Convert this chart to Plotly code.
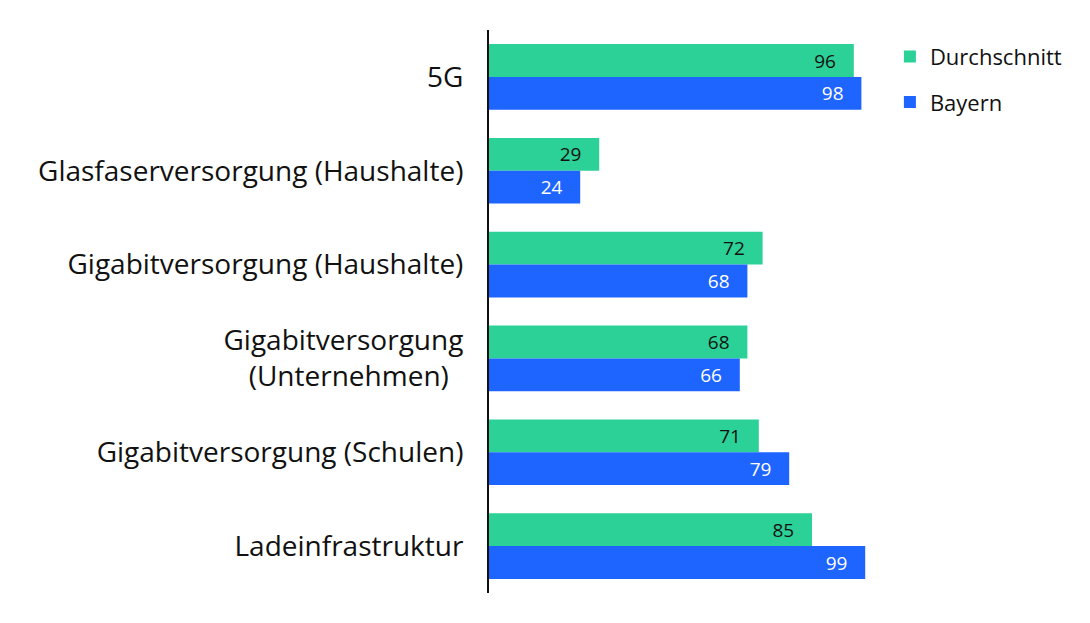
import plotly.graph_objects as go

categories = ["5G", "Glasfaserversorgung (Haushalte)", "Gigabitversorgung (Haushalte)",
              "Gigabitversorgung<br>(Unternehmen)  ", "Gigabitversorgung (Schulen)", "Ladeinfrastruktur"]
durchschnitt = [96, 29, 72, 68, 71, 85]
bayern = [98, 24, 68, 66, 79, 99]

FONT = "Open Sans"
fig = go.Figure()
fig.add_trace(go.Bar(
    y=categories, x=durchschnitt, name="Durchschnitt", orientation="h",
    marker=dict(color="#2BD197", line=dict(width=0)), legendgroup="a",
    text=[f"{v}\u00a0\u00a0\u00a0" for v in durchschnitt], textposition="inside",
    insidetextanchor="end", textfont=dict(color="#111111", size=19, family=FONT),
    hoverinfo="x+name",
))
fig.add_trace(go.Bar(
    y=categories, x=bayern, name="Bayern", orientation="h",
    marker=dict(color="#1E64FF", line=dict(width=0)), legendgroup="b",
    text=[f"{v}\u00a0\u00a0\u00a0" for v in bayern], textposition="inside",
    insidetextanchor="end", textfont=dict(color="#FFFFFF", size=19, family=FONT),
    hoverinfo="x+name",
))
fig.update_layout(
    width=1090, height=623,
    margin=dict(l=481, r=229, t=22, b=38),
    paper_bgcolor="white", plot_bgcolor="white",
    barmode="group", bargap=0.3, bargroupgap=0,
    uniformtext=dict(mode="show", minsize=10),
    font=dict(family=FONT, color="#111111"),
    showlegend=True,
    legend=dict(x=1.055, y=0.99, xanchor="left", yanchor="top",
                font=dict(size=22, family=FONT), traceorder="grouped",
                itemwidth=30, tracegroupgap=14),
    xaxis=dict(range=[0, 100], showgrid=False, showticklabels=False, zeroline=False,
               showline=False, ticks=""),
    yaxis=dict(autorange="reversed", showgrid=False, showline=True, linecolor="#111111",
               linewidth=2, ticks="", tickfont=dict(size=28, family=FONT, color="#111111"),
               ticklabelstandoff=18),
)
fig.write_html("out.html")
